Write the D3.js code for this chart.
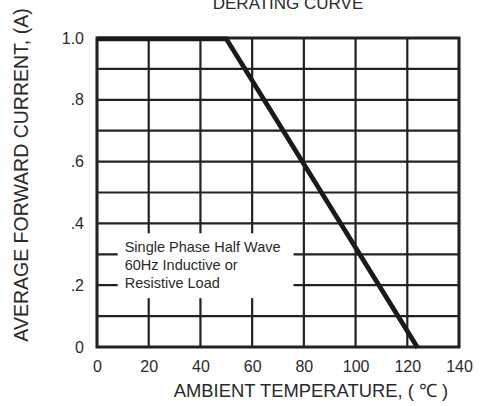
<!DOCTYPE html>
<html>
<head>
<meta charset="utf-8">
<script src="https://cdn.jsdelivr.net/npm/d3@7"></script>
<style>
  body { margin: 0; background: #fff; }
  svg { display: block; font-family: "Liberation Sans", Arial, sans-serif; }
</style>
</head>
<body>
<div id="chart"></div>
<script>
// Derating curve data
const temps = [0, 50, 124];
const currents = [1.0, 1.0, 0];
const xTicks = [0, 20, 40, 60, 80, 100, 120, 140];
const yTicks = [0, 0.2, 0.4, 0.6, 0.8, 1.0];
const yTickLabels = ["0", ".2", ".4", ".6", ".8", "1.0"];
const yGrid = d3.range(0, 11).map(i => i / 10);
const noteLines = ["Single Phase Half Wave", "60Hz Inductive or", "Resistive Load"];

const W = 493, H = 406;
const margin = { top: 38, right: 34, bottom: 59, left: 97 };
const width = W - margin.left - margin.right;
const height = H - margin.top - margin.bottom;

const svg = d3.select("#chart")
    .append("svg")
    .attr("width", W)
    .attr("height", H);

const g = svg.append("g")
    .attr("transform", `translate(${margin.left},${margin.top})`);

const x = d3.scaleLinear().domain([0, 140]).range([0, width]);
const y = d3.scaleLinear().domain([0, 1]).range([height, 0]);

const ink = "#222";
const textInk = "#2a2a2a";

// Grid lines
g.selectAll(".vgrid")
    .data(xTicks)
    .enter()
    .append("line")
    .attr("x1", d => x(d)).attr("x2", d => x(d))
    .attr("y1", 0).attr("y2", height)
    .attr("stroke", ink)
    .attr("stroke-width", 2.2);

g.selectAll(".hgrid")
    .data(yGrid)
    .enter()
    .append("line")
    .attr("x1", 0).attr("x2", width)
    .attr("y1", d => y(d)).attr("y2", d => y(d))
    .attr("stroke", ink)
    .attr("stroke-width", 2.2);

// Note box masks the grid
const note = g.append("g")
    .attr("transform", `translate(${x(8)},${y(0.368)})`);
note.append("rect")
    .attr("width", x(76) - x(8))
    .attr("height", y(0.158) - y(0.368))
    .attr("fill", "#fff");
note.selectAll("text")
    .data(noteLines)
    .enter()
    .append("text")
    .attr("x", 7)
    .attr("y", (d, i) => 19 + i * 18)
    .style("font-size", "14.5px")
    .style("fill", textInk)
    .text(d => d);

// Plot border
g.append("rect")
    .attr("width", width)
    .attr("height", height)
    .attr("fill", "none")
    .attr("stroke", ink)
    .attr("stroke-width", 3);

// Derating curve
const pts = temps.map((t, i) => [t, currents[i]]);
g.append("path")
    .datum(pts)
    .attr("fill", "none")
    .attr("stroke", "#1a1a1a")
    .attr("stroke-width", 4.8)
    .attr("d", d3.line().x(d => x(d[0])).y(d => y(d[1]) + 0.8));

// Axes (text only)
const xAxis = g.append("g")
    .attr("transform", `translate(0,${height})`)
    .call(d3.axisBottom(x).tickValues(xTicks).tickSize(0).tickPadding(14).tickFormat(d3.format("d")));
xAxis.select(".domain").remove();
xAxis.selectAll("text")
    .style("font-size", "16px")
    .style("font-family", "Liberation Sans, Arial, sans-serif")
    .attr("fill", textInk);

const yAxis = g.append("g")
    .call(d3.axisLeft(y).tickValues(yTicks).tickSize(0).tickPadding(13).tickFormat((d, i) => yTickLabels[i]));
yAxis.select(".domain").remove();
yAxis.selectAll("text")
    .style("font-size", "16px")
    .style("font-family", "Liberation Sans, Arial, sans-serif")
    .attr("fill", textInk);

// Titles
svg.append("text")
    .attr("x", 288)
    .attr("y", 9)
    .attr("text-anchor", "middle")
    .style("font-size", "17px")
    .style("fill", textInk)
    .text("DERATING CURVE");

svg.append("text")
    .attr("x", 311)
    .attr("y", 397)
    .attr("text-anchor", "middle")
    .style("font-size", "18.4px")
    .style("fill", textInk)
    .text("AMBIENT TEMPERATURE, ( \u2103 )");

svg.append("text")
    .attr("transform", "translate(28,175) rotate(-90)")
    .attr("text-anchor", "middle")
    .style("font-size", "19.5px")
    .style("fill", textInk)
    .text("AVERAGE FORWARD CURRENT, (A)");
</script>
</body>
</html>
